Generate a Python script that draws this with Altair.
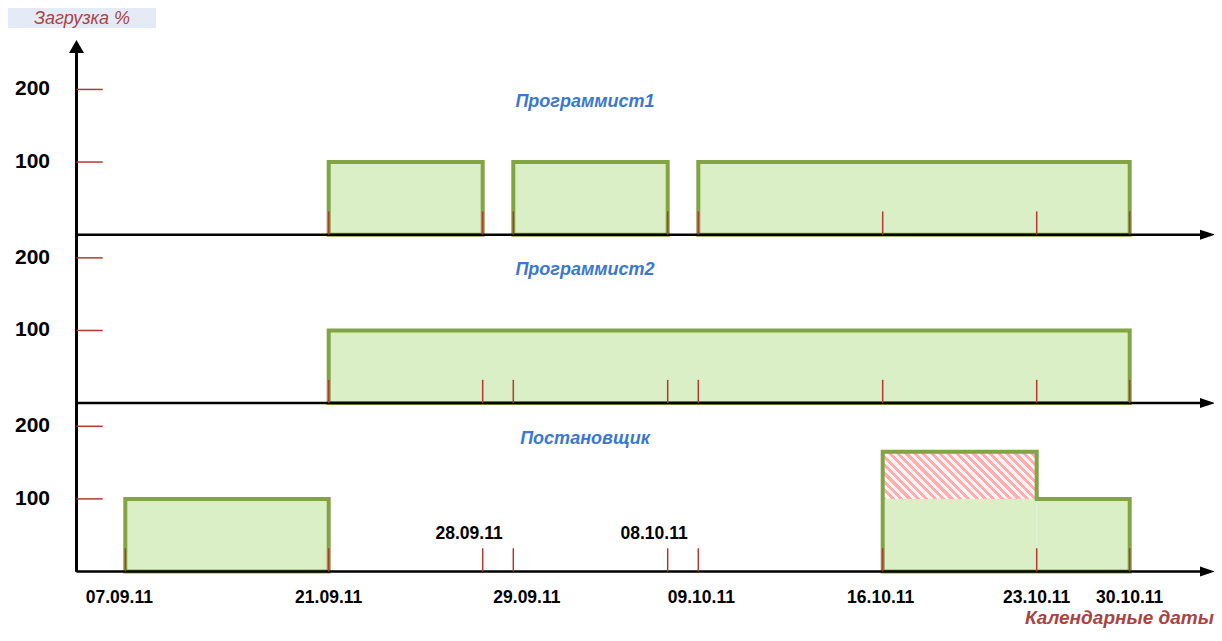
import altair as alt
import pandas as pd

# ---------------- data ----------------
rows = ["Программист1", "Программист2", "Постановщик"]

seg_row = ["Программист1", "Программист1", "Программист1", "Программист2",
           "Постановщик", "Постановщик", "Постановщик"]
seg_start = ["21.09.11", "29.09.11", "09.10.11", "21.09.11",
             "07.09.11", "16.10.11", "23.10.11"]
seg_end = ["28.09.11", "08.10.11", "30.10.11", "30.10.11",
           "21.09.11", "23.10.11", "30.10.11"]
seg_load = [100, 100, 100, 100, 100, 165, 100]

capacity = 100
y_tick_values = [100, 200]

axis_dates = ["07.09.11", "21.09.11", "28.09.11", "29.09.11", "08.10.11",
              "09.10.11", "16.10.11", "23.10.11", "30.10.11"]
row_tick_dates = {
    "Программист1": axis_dates[1:],
    "Программист2": axis_dates[1:],
    "Постановщик": axis_dates,
}
labels_below = ["07.09.11", "21.09.11", "29.09.11", "09.10.11",
                "16.10.11", "23.10.11", "30.10.11"]
labels_above = ["28.09.11", "08.10.11"]

y_title = "Загрузка %"
x_title = "Календарные даты"

# ---------------- layout / style ----------------
W, H = 1206, 625
FONT = "Liberation Sans"
GREEN_FILL = "#dbefc6"
GREEN_LINE = "#82a443"
RED = "#b03a30"
BLUE = "#3a78d0"
TITLE_RED = "#a84444"
PINK = "#ffadad"
PALE = "#fff3f3"

# nonlinear (piecewise) calendar axis: pixel position of each axis date
x_pixels = [117.3, 320.7, 474.7, 505.3, 659.7, 690.3, 874.7, 1028.7, 1121.7]
PX_PER_UNIT = 0.726
BASE_PX = 563.5          # pixel of load 0 for the bottom row
ROW_SPAN = 232           # load units between row baselines
AXIS_X = 68.5

t0 = pd.to_datetime(axis_dates[0], format="%d.%m.%y")


def day(s):
    return int((pd.to_datetime(s, format="%d.%m.%y") - t0).days)


row_base = {r: (len(rows) - 1 - i) * ROW_SPAN for i, r in enumerate(rows)}

xs = alt.Scale(domain=[day(d) for d in axis_dates], range=x_pixels,
               zero=False, nice=False)
ys = alt.Scale(domain=[-(H - BASE_PX) / PX_PER_UNIT, BASE_PX / PX_PER_UNIT],
               range=[H, 0], zero=False, nice=False)


def X(f):
    return alt.X(f, type="quantitative", scale=xs, axis=None)


def Y(f):
    return alt.Y(f, type="quantitative", scale=ys, axis=None)


# ---------------- tables ----------------
seg = pd.DataFrame({"row": seg_row, "start": seg_start, "end": seg_end, "load": seg_load})
seg["x0"] = seg["start"].map(day)
seg["x1"] = seg["end"].map(day)
seg["base"] = seg["row"].map(row_base)
seg["y0"] = seg["base"]
seg["y1"] = seg["base"] + seg["load"].clip(upper=capacity)
over = seg[seg["load"] > capacity].copy()
over["y0"] = over["base"] + capacity
over["y1"] = over["base"] + over["load"]

# outlines: contiguous segments of a row form one block
pts = []
block = -1
prev_end = {}
blk_start = None
for i, r in seg.iterrows():
    if prev_end.get(r["row"]) != r["x0"]:
        block += 1
        blk_start = r["x0"]
        pts.append({"block": block, "seq": len(pts), "x": r["x0"], "y": r["base"]})
    pts.append({"block": block, "seq": len(pts), "x": r["x0"], "y": r["base"] + r["load"]})
    pts.append({"block": block, "seq": len(pts), "x": r["x1"], "y": r["base"] + r["load"]})
    prev_end[r["row"]] = r["x1"]
    nxt = seg.iloc[i + 1] if i + 1 < len(seg) else None
    if nxt is None or nxt["row"] != r["row"] or nxt["x0"] != r["x1"]:
        pts.append({"block": block, "seq": len(pts), "x": r["x1"], "y": r["base"]})
        pts.append({"block": block, "seq": len(pts), "x": blk_start, "y": r["base"]})
outline = pd.DataFrame(pts)

rows_df = pd.DataFrame({"row": rows, "base": [row_base[r] for r in rows]})
rows_df["title_y"] = rows_df["base"] + 183

yt = pd.DataFrame([{"row": r, "v": v, "y": row_base[r] + v, "label": str(v)}
                   for r in rows for v in y_tick_values])

vt = pd.DataFrame([{"row": r, "x": day(d), "y0": row_base[r], "y1": row_base[r] + 32}
                   for r in rows for d in row_tick_dates[r]])

# hatch gradient (diagonal stripes at 45 degrees in pixel space)
hw = x_pixels[axis_dates.index("23.10.11")] - x_pixels[axis_dates.index("16.10.11")]
hh = float((over["load"].iloc[0] - capacity) * PX_PER_UNIT)
vx, vy = 1.0, -hh / hw
t_tr = (vx - vy) / (vx * vx + vy * vy)   # make the top-right corner offset 1
vx, vy = vx * t_tr, vy * t_tr
N = 24
stops = []
for i in range(N):
    s0, s1, s2 = i / N, (i + 0.5) / N, (i + 1) / N
    stops += [alt.GradientStop(offset=s0, color=PINK), alt.GradientStop(offset=s1, color=PINK),
              alt.GradientStop(offset=s1, color=PALE), alt.GradientStop(offset=s2, color=PALE)]
hatch = alt.LinearGradient(gradient="linear", stops=stops,
                           x1=0, y1=1, x2=float(vx), y2=float(1 + vy))

# ---------------- layers ----------------
fills = alt.Chart(seg).mark_rect(fill=GREEN_FILL, strokeWidth=0).encode(
    x=X("x0"), x2=alt.X2("x1"), y=Y("y0"), y2=alt.Y2("y1"))

hatched = alt.Chart(over).mark_rect(fill=hatch, strokeWidth=0).encode(
    x=X("x0"), x2=alt.X2("x1"), y=Y("y0"), y2=alt.Y2("y1"))

outlines = alt.Chart(outline).mark_line(
    color=GREEN_LINE, strokeWidth=4, strokeJoin="miter", strokeCap="square").encode(
    x=X("x"), y=Y("y"), detail="block:N", order="seq:Q")

x_axes = alt.Chart(rows_df).mark_rule(color="black", strokeWidth=2.5).encode(
    x=alt.value(AXIS_X), x2=alt.value(1195), y=Y("base"))

x_arrows = alt.Chart(rows_df).mark_point(
    shape="M-1,-0.667L1,0L-1,0.667Z", size=225, filled=True, color="black",
    opacity=1, strokeWidth=0).encode(x=alt.value(1199.5), y=Y("base"))

v_ticks = alt.Chart(vt).mark_rule(color=RED, strokeWidth=1.5).encode(
    x=X("x"), y=Y("y0"), y2=alt.Y2("y1"))

y_axis = alt.Chart(rows_df).mark_rule(color="black", strokeWidth=2.5).encode(
    x=alt.value(AXIS_X), y=alt.Y(datum=0, scale=ys, axis=None), y2=alt.value(45))

y_arrow = alt.Chart(rows_df.head(1)).mark_point(
    shape="M0,-1L1,0.73L-1,0.73Z", size=225, filled=True, color="black",
    opacity=1, strokeWidth=0).encode(x=alt.value(AXIS_X), y=alt.value(39.5))

h_ticks = alt.Chart(yt).mark_rule(color=RED, strokeWidth=1.5).encode(
    x=alt.value(AXIS_X), x2=alt.value(94.7), y=Y("y"))

h_labels = alt.Chart(yt).mark_text(
    align="right", baseline="middle", font=FONT, fontSize=21, fontWeight="bold",
    color="black").encode(x=alt.value(42), y=Y("y"), text="label:N")

titles = alt.Chart(rows_df).mark_text(
    align="center", baseline="middle", font=FONT, fontSize=18, fontWeight="bold",
    fontStyle="italic", color=BLUE).encode(x=alt.value(577), y=Y("title_y"), text="row:N")

# date label placement (align, dx)
label_place = {
    "07.09.11": ("center", -6), "21.09.11": ("center", 0), "29.09.11": ("left", -20),
    "09.10.11": ("center", 3), "16.10.11": ("center", -2), "23.10.11": ("center", 0),
    "30.10.11": ("center", 0), "28.09.11": ("right", 20), "08.10.11": ("right", 20),
}
date_layers = []
for lab in labels_below + labels_above:
    al, dx = label_place[lab]
    ypx = 595 if lab in labels_below else 531
    d = pd.DataFrame({"label": [lab], "x": [day(lab)]})
    date_layers.append(alt.Chart(d).mark_text(
        align=al, dx=dx, baseline="alphabetic", font=FONT, fontSize=17.5,
        fontWeight="bold", color="black").encode(x=X("x"), y=alt.value(ypx), text="label:N"))

ybox = alt.Chart(rows_df.head(1)).mark_rect(fill="#e5ebf6").encode(
    x=alt.value(0), x2=alt.value(148), y=alt.value(0), y2=alt.value(20))
ytitle = alt.Chart(pd.DataFrame({"t": [y_title]})).mark_text(
    align="center", baseline="middle", font=FONT, fontSize=18, fontStyle="italic",
    color=TITLE_RED).encode(x=alt.value(74), y=alt.value(10.5), text="t:N")
xtitle = alt.Chart(pd.DataFrame({"t": [x_title]})).mark_text(
    align="right", baseline="alphabetic", font=FONT, fontSize=19, fontStyle="italic",
    fontWeight="bold", color=TITLE_RED).encode(x=alt.value(1206), y=alt.value(616), text="t:N")

chart = alt.layer(
    fills, hatched, outlines, x_axes, x_arrows, v_ticks, y_axis, y_arrow,
    h_ticks, h_labels, titles, *date_layers, ybox, ytitle, xtitle
).properties(
    width=W, height=H, padding=0, autosize=alt.AutoSizeParams(type="none")
).configure_view(stroke=None)

chart.save("out.html", embed_options={"renderer": "svg", "actions": False})
